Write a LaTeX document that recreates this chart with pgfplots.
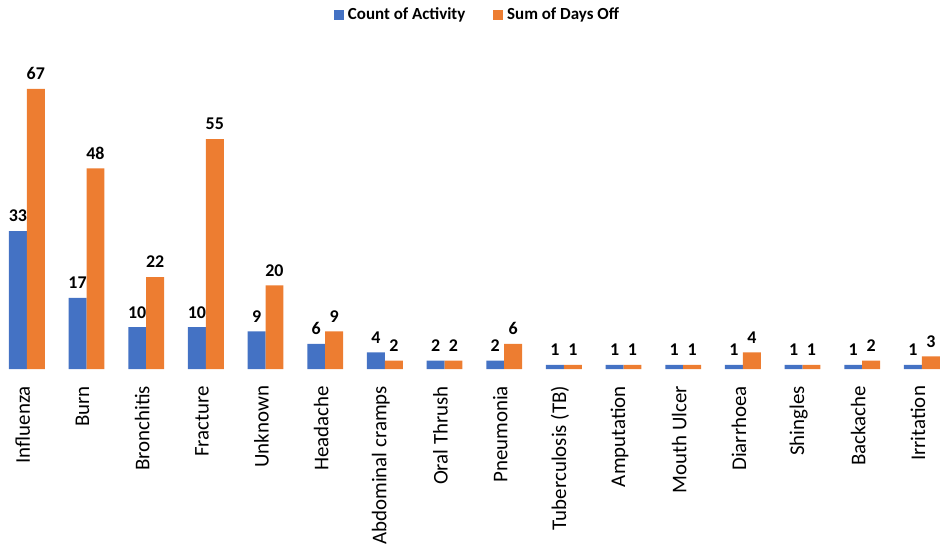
\documentclass[border=0pt]{standalone}
\usepackage{fontspec}
\setmainfont{Carlito}
\usepackage{pgfplots}
\pgfplotsset{compat=1.18}
\definecolor{cntblue}{HTML}{4472C4}
\definecolor{dayorange}{HTML}{ED7D31}
\begin{document}
\begin{tikzpicture}
  \begin{axis}[
      scale only axis,
      width=471pt, height=165pt,
      xmin=-0.45, xmax=15.275,
      ymin=0, ymax=78.6,
      enlargelimits=false,
      clip=false,
      ybar=0pt,
      bar width=9pt,
      axis line style={draw=none},
      ytick=\empty,
      xtick={0,...,15},
      xticklabels={Influenza, Burn, Bronchitis, Fracture, Unknown, Headache,
        Abdominal cramps, Oral Thrush, Pneumonia, Tuberculosis (TB),
        Amputation, Mouth Ulcer, Diarrhoea, Shingles, Backache, Irritation},
      major tick length=0pt,
      % rotated frame: xshift moves down, yshift moves left
      x tick label style={rotate=90, anchor=east, font=\fontsize{10.5}{12}\selectfont, xshift=-5pt, yshift=2pt},
      /pgf/number format/assume math mode=true,
      nodes near coords,
      every node near coord/.append style={font=\fontsize{9}{10}\selectfont\bfseries, text=black, yshift=1pt},
      legend style={at={(0.51,1)}, anchor=center, yshift=12.5pt, draw=none,
        legend columns=-1, font=\fontsize{8.5}{10}\selectfont\bfseries,
        /tikz/every even column/.append style={column sep=12pt}},
      legend image code/.code={\fill[#1] (0pt,-2.5pt) rectangle (5pt,2.5pt);},
    ]
    % Count of Activity
    \addplot[fill=cntblue, draw=none] coordinates {
      (0,33) (1,17) (2,10) (3,10) (4,9) (5,6) (6,4) (7,2)
      (8,2) (9,1) (10,1) (11,1) (12,1) (13,1) (14,1) (15,1)
    };
    % Sum of Days Off
    \addplot[fill=dayorange, draw=none] coordinates {
      (0,67) (1,48) (2,22) (3,55) (4,20) (5,9) (6,2) (7,2)
      (8,6) (9,1) (10,1) (11,1) (12,4) (13,1) (14,2) (15,3)
    };
    \legend{Count of Activity, Sum of Days Off}
  \end{axis}
\end{tikzpicture}
\end{document}
